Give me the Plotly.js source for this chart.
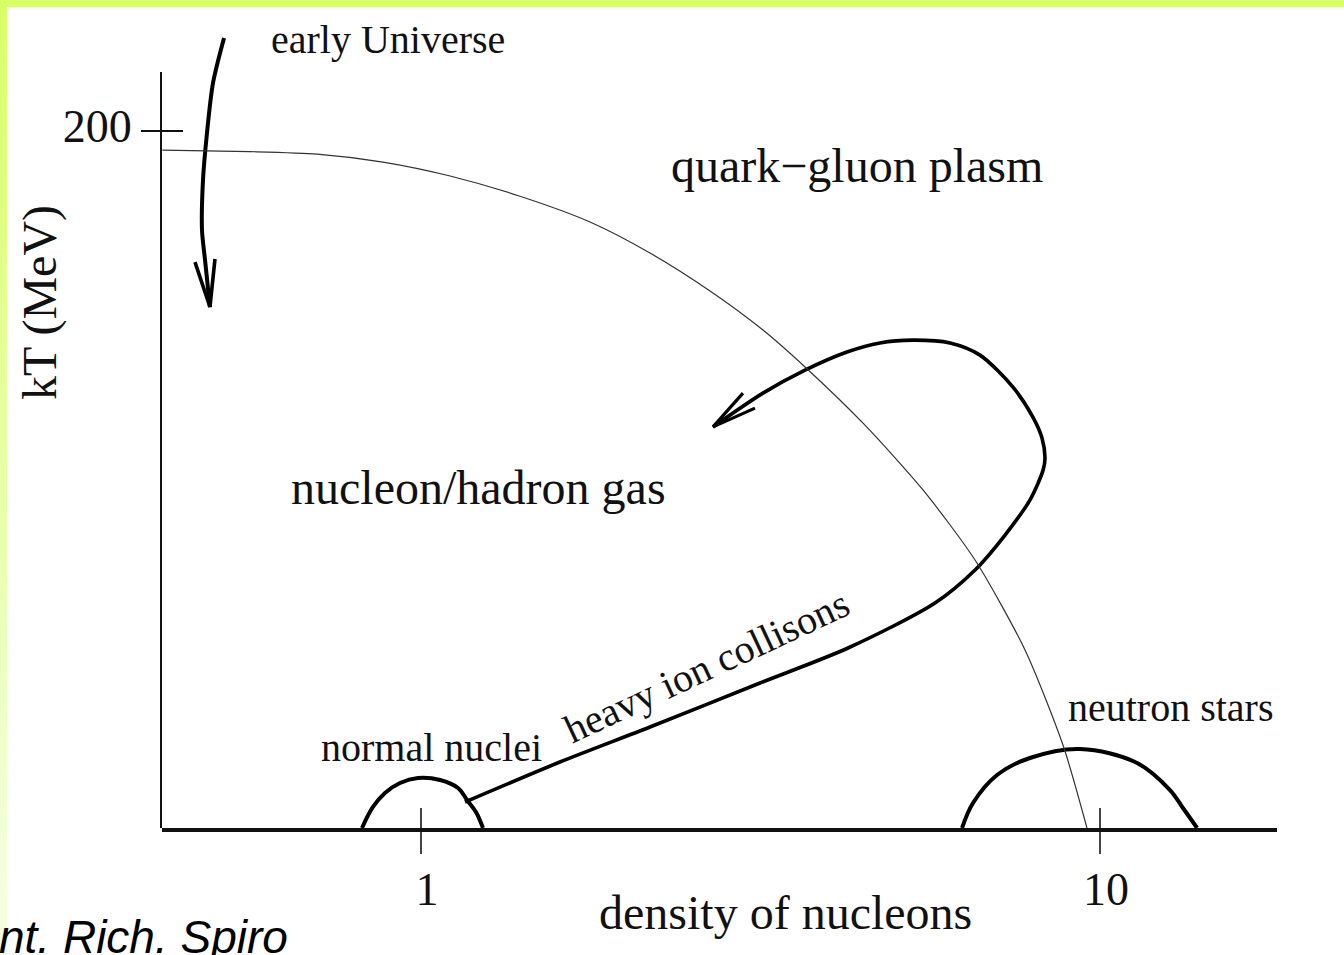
<!DOCTYPE html>
<html>
<head>
<meta charset="utf-8">
<script src="https://cdn.plot.ly/plotly-3.0.1.min.js"></script>
<style>
  html, body { margin:0; padding:0; width:1344px; height:955px; overflow:hidden; }
  body {
    background:
      linear-gradient(#d9ff66, #d9ff66) top left / 100% 7px no-repeat,
      linear-gradient(to bottom, #d9ff66, #f5ffe6) top left / 7px 100% no-repeat,
      #ffffff;
  }
  #chart { position:absolute; left:0; top:0; width:1344px; height:955px; }
</style>
</head>
<body>
<div id="chart"></div>
<script>
// ---- data (density of nucleons, kT in MeV) ----
const phaseBoundaryDensity = [0.416, 0.560, 0.703, 0.879, 1.104, 1.399, 1.774, 2.174, 2.665, 3.189, 3.678, 4.507, 5.487, 6.546, 7.755, 8.821, 9.568];
const phaseBoundaryKT      = [194.5, 194.1, 193.4, 191.1, 187.1, 181.3, 173.9, 165.0, 154.1, 142.9, 132.3, 115.6, 97.0, 76.9, 51.1, 23.8, 0];

const heavyIonDensity = [1.161, 1.602, 2.174, 3.157, 4.255, 5.715, 6.546, 7.247, 7.885, 8.245, 8.299, 8.215, 7.966, 7.445, 6.658, 6.014, 5.304, 4.742, 4.240, 3.678, 3.189, 2.692];
const heavyIonKT      = [7.46, 18.94, 28.98, 41.61, 51.65, 64.56, 74.03, 84.07, 94.12, 102.7, 106.2, 111.9, 117.9, 126.5, 135.7, 139.2, 140.0, 139.2, 136.6, 131.4, 124.8, 115.1];
const loopArrowheadDensity = [2.980, 2.692, 3.104];
const loopArrowheadKT      = [124.8, 115.1, 120.5];

const earlyUniverseDensity = [0.5128, 0.4940, 0.4840, 0.4775, 0.4759, 0.4808, 0.4889];
const earlyUniverseKT      = [226.7, 213.8, 199.4, 185.9, 171.6, 163.0, 149.5];
const earlyArrowheadDensity = [0.4647, 0.4889, 0.4973];
const earlyArrowheadKT      = [162.4, 149.5, 163.3];

const normalNucleiDensity = [0.8187, 0.8497, 0.8851, 0.9313, 0.9899, 1.067, 1.134, 1.169, 1.205, 1.234];
const normalNucleiKT      = [0, 6.03, 10.04, 12.91, 14.35, 13.77, 11.48, 8.03, 4.59, 0];

const neutronStarDensity = [6.264, 6.501, 7.053, 7.885, 9.344, 11.34, 12.68, 13.25, 13.90];
const neutronStarKT      = [0, 7.17, 15.21, 20.09, 22.67, 18.65, 10.90, 5.74, 0];

const xTickVals = [1, 10];
const xTickText = ['1', '10'];
const yTickVals = [200];
const yTickText = ['200'];

// ---- styling ----
const SERIF = 'Liberation Serif, Times New Roman, serif';

const traces = [
  {x: phaseBoundaryDensity, y: phaseBoundaryKT, xaxis:'x2', yaxis:'y', mode:'lines',
   line:{color:'#333', width:1.2, shape:'spline', smoothing:0.7, simplify:false}, hoverinfo:'skip'},
  {x: heavyIonDensity, y: heavyIonKT, mode:'lines',
   line:{color:'#000', width:3.6, shape:'spline', smoothing:0.8, simplify:false}, hoverinfo:'skip'},
  {x: loopArrowheadDensity, y: loopArrowheadKT, mode:'lines',
   line:{color:'#000', width:3.2}, hoverinfo:'skip'},
  {x: earlyUniverseDensity, y: earlyUniverseKT, mode:'lines',
   line:{color:'#000', width:4, shape:'spline', smoothing:0.8, simplify:false}, hoverinfo:'skip'},
  {x: earlyArrowheadDensity, y: earlyArrowheadKT, mode:'lines',
   line:{color:'#000', width:3.6}, hoverinfo:'skip'},
  {x: normalNucleiDensity, y: normalNucleiKT, xaxis:'x', yaxis:'y2', mode:'lines',
   line:{color:'#000', width:4, shape:'spline', smoothing:1, simplify:false}, hoverinfo:'skip'},
  {x: neutronStarDensity, y: neutronStarKT, xaxis:'x', yaxis:'y2', mode:'lines',
   line:{color:'#000', width:4, shape:'spline', smoothing:1, simplify:false}, hoverinfo:'skip'}
];

function label(text, x, y, size, extra) {
  return Object.assign({text:text, xref:'paper', yref:'paper', x:x, y:y,
    xanchor:'center', yanchor:'middle', showarrow:false,
    font:{family:SERIF, size:size, color:'#111'}}, extra || {});
}

const xRange = [-0.3814, 1.2607];
const layout = {
  width:1344, height:955,
  margin:{l:162, r:67, t:30, b:127},
  paper_bgcolor:'rgba(0,0,0,0)',
  plot_bgcolor:'rgba(0,0,0,0)',
  showlegend:false,
  font:{family:SERIF, color:'#111'},
  xaxis:{type:'log', range:xRange, anchor:'y', domain:[0,1],
    showgrid:false, zeroline:false, showline:true, linecolor:'#111', linewidth:3.5,
    ticks:'outside', ticklen:22, tickwidth:2.2, tickcolor:'#444',
    tickmode:'array', tickvals:xTickVals, ticktext:xTickText,
    tickfont:{family:SERIF, size:46, color:'#111'}, ticklabelstandoff:-4, ticklabelshift:6},
  xaxis2:{type:'log', range:xRange, anchor:'y', domain:[0,1], side:'bottom',
    showgrid:false, zeroline:false, showline:false,
    ticks:'inside', ticklen:20, tickwidth:2.2, tickcolor:'#444',
    tickmode:'array', tickvals:xTickVals, showticklabels:false},
  yaxis:{range:[0, 229.0], anchor:'x', domain:[0,1],
    showgrid:false, zeroline:false, showline:false,
    ticks:'outside', ticklen:20, tickwidth:2, tickcolor:'#111',
    tickmode:'array', tickvals:yTickVals, ticktext:yTickText,
    tickfont:{family:SERIF, size:46, color:'#111'}, ticklabelshift:-5},
  yaxis2:{range:[0, 216.93], anchor:'x', domain:[0, 0.94737],
    showgrid:false, zeroline:false, showline:true, linecolor:'#111', linewidth:2.5,
    ticks:'inside', ticklen:21, tickwidth:2, tickcolor:'#111',
    tickmode:'array', tickvals:yTickVals, showticklabels:false},
  annotations:[
    label('early Universe', 0.2027, 0.9875, 40),
    label('quark\u2212gluon plasm', 0.6233, 0.8308, 48),
    label('nucleon/hadron gas', 0.2843, 0.4273, 48),
    label('heavy ion collisons', 0.4879, 0.2030, 40, {textangle:-25}),
    label('normal nuclei', 0.2413, 0.1015, 40),
    label('neutron stars', 0.9049, 0.1504, 40),
    label('density of nucleons', 0.5596, -0.1065, 48),
    label('kT (MeV)', -0.1094, 0.6579, 48, {textangle:-90}),
    label('<i>nt. Rich. Spiro</i>', -0.148, -0.1366, 46,
      {xanchor:'left', font:{family:'Liberation Sans, Arial, sans-serif', size:46, color:'#000'}})
  ]
};

Plotly.newPlot('chart', traces, layout, {staticPlot:true, displayModeBar:false});
</script>
</body>
</html>
